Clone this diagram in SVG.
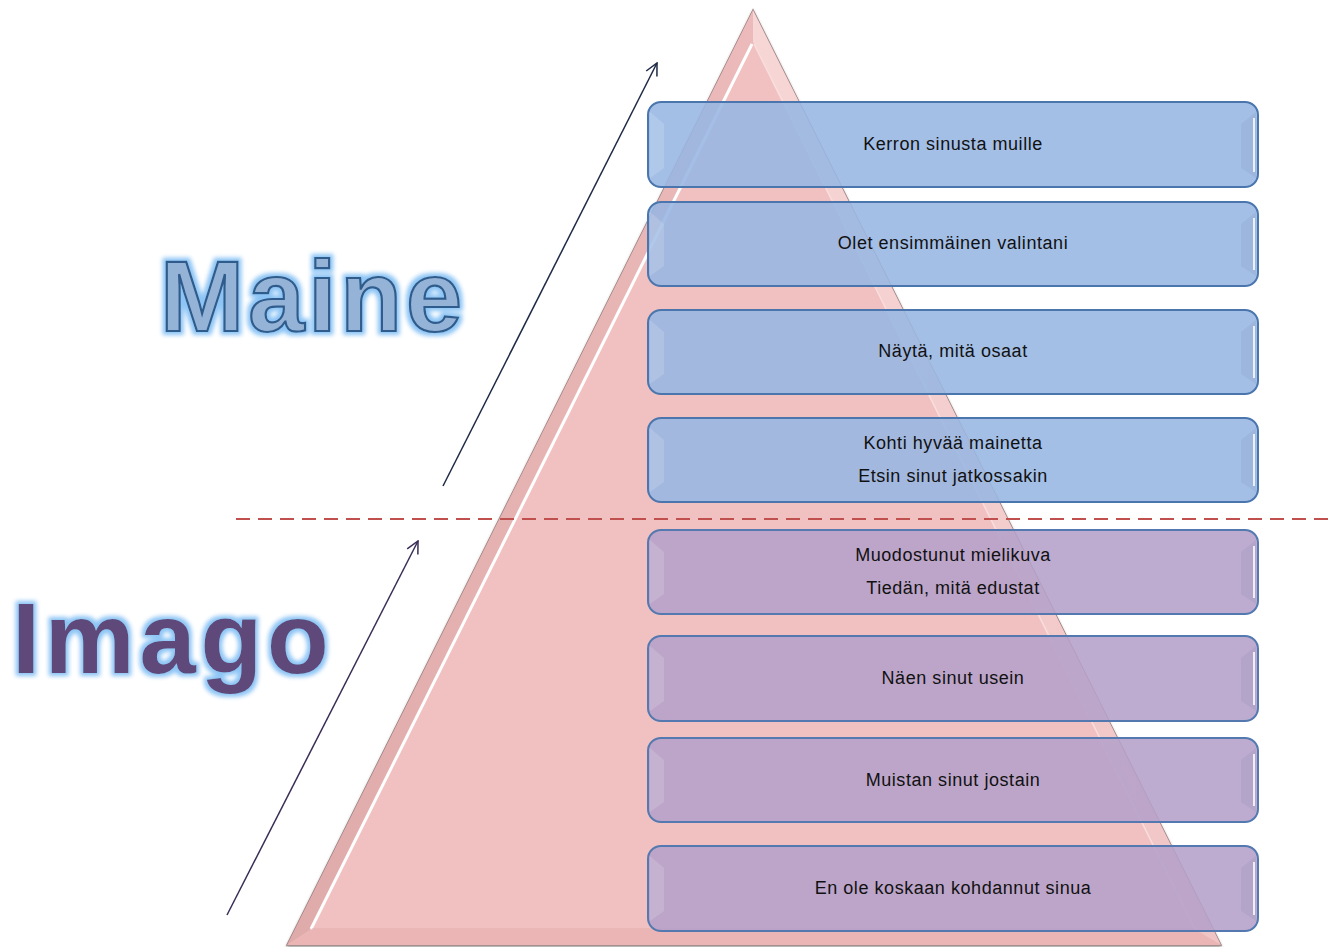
<svg xmlns="http://www.w3.org/2000/svg" width="1334" height="947" viewBox="0 0 1334 947">
  <defs>
    <style>
      .lbl { font-family: "Liberation Sans", Arial, sans-serif; font-size: 18px; letter-spacing: 0.55px; fill: #111; text-anchor: middle; }
      .big { font-family: "Liberation Sans", Arial, sans-serif; font-weight: bold; font-size: 101px; }
      .box-blue { fill: #97b6e2; fill-opacity: 0.88; stroke: #4a76ad; stroke-width: 2; }
      .box-purple { fill: #b4a0ca; fill-opacity: 0.88; stroke: #5379b0; stroke-width: 2; }
      .bevel-l { fill: #ffffff; fill-opacity: 0.14; }
      .bevel-r { fill: #3a4a70; fill-opacity: 0.07; }
      .hl { stroke: #ffffff; stroke-opacity: 0.8; stroke-width: 2; fill: none; }
    </style>
    <filter id="glow" x="-10%" y="-20%" width="120%" height="140%">
      <feMorphology in="SourceAlpha" operator="dilate" radius="3" result="d"/>
      <feGaussianBlur in="d" stdDeviation="2.2" result="b"/>
      <feFlood flood-color="#8cc4f5" result="c"/>
      <feComposite in="c" in2="b" operator="in" result="g"/>
      <feMerge>
        <feMergeNode in="g"/>
        <feMergeNode in="SourceGraphic"/>
      </feMerge>
    </filter>
    <filter id="shadow" x="-5%" y="-5%" width="110%" height="110%">
      <feGaussianBlur in="SourceAlpha" stdDeviation="1.5"/>
      <feOffset dx="0" dy="2" result="o"/>
      <feFlood flood-color="#000" flood-opacity="0.35"/>
      <feComposite in2="o" operator="in"/>
      <feMerge><feMergeNode/><feMergeNode in="SourceGraphic"/></feMerge>
    </filter>
    <linearGradient id="faceL" x1="0" y1="0" x2="1" y2="0">
      <stop offset="0" stop-color="#dfaaaa"/>
      <stop offset="1" stop-color="#ecbaba"/>
    </linearGradient>
    <linearGradient id="faceR" x1="0" y1="0" x2="1" y2="0">
      <stop offset="0" stop-color="#f7d6d6"/>
      <stop offset="1" stop-color="#f0c4c4"/>
    </linearGradient>
    <marker id="arrNavy" viewBox="0 0 14 14" refX="13" refY="7" markerWidth="14" markerHeight="14" markerUnits="userSpaceOnUse" orient="auto">
      <path d="M1,1 L13,7 L1,13" fill="none" stroke="#1e2a45" stroke-width="1.5"/>
    </marker>
    <marker id="arrPurple" viewBox="0 0 14 14" refX="13" refY="7" markerWidth="14" markerHeight="14" markerUnits="userSpaceOnUse" orient="auto">
      <path d="M1,1 L13,7 L1,13" fill="none" stroke="#3a2d55" stroke-width="1.5"/>
    </marker>
  </defs>

  <rect width="1334" height="947" fill="#ffffff"/>

  <!-- Pyramid with bevelled faces -->
  <g id="pyramid">
    <polygon points="753,10 287,945 1221,945" fill="#eebbbb" stroke="#9a7f7f" stroke-width="1.5" filter="url(#shadow)"/>
    <polygon points="753,10 287,945 310,930 753,42" fill="url(#faceL)"/>
    <polygon points="753,10 753,42 1196,930 1221,945" fill="url(#faceR)"/>
    <polygon points="287,945 310,930 1196,930 1221,945" fill="#ebb5b5"/>
    <polygon points="753,42 310,930 1196,930" fill="#f1c1c1"/>
    <line x1="752" y1="44" x2="311" y2="929" stroke="#ffffff" stroke-width="3"/>
    <line x1="754" y1="44" x2="1195" y2="929" stroke="#f9dede" stroke-width="1.5"/>
    <line x1="312" y1="929" x2="1194" y2="929" stroke="#e4aaaa" stroke-width="1"/>
  </g>

  <!-- Dashed divider between the two zones -->
  <g id="divider">
    <line x1="236" y1="519" x2="1332" y2="519" stroke="#c0504d" stroke-width="1.8" stroke-dasharray="14,8"/>
  </g>

  <!-- Stage boxes -->
  <g id="box1">
    <rect class="box-blue" x="648" y="102" width="610" height="85" rx="13"/>
    <polygon class="bevel-l" points="650,112 664,124 664,168 650,178"/>
    <polygon class="bevel-r" points="1256,112 1241,124 1241,168 1256,178"/>
    <path class="hl" d="M1254,118 L1254,172"/>
    <text class="lbl" x="953" y="150">Kerron sinusta muille</text>
  </g>
  <g id="box2">
    <rect class="box-blue" x="648" y="202" width="610" height="84" rx="13"/>
    <polygon class="bevel-l" points="650,212 664,224 664,266 650,276"/>
    <polygon class="bevel-r" points="1256,212 1241,224 1241,266 1256,276"/>
    <path class="hl" d="M1254,218 L1254,270"/>
    <text class="lbl" x="953" y="249">Olet ensimmäinen valintani</text>
  </g>
  <g id="box3">
    <rect class="box-blue" x="648" y="310" width="610" height="84" rx="13"/>
    <polygon class="bevel-l" points="650,320 664,332 664,374 650,384"/>
    <polygon class="bevel-r" points="1256,320 1241,332 1241,374 1256,384"/>
    <path class="hl" d="M1254,326 L1254,378"/>
    <text class="lbl" x="953" y="357">Näytä, mitä osaat</text>
  </g>
  <g id="box4">
    <rect class="box-blue" x="648" y="418" width="610" height="84" rx="13"/>
    <polygon class="bevel-l" points="650,428 664,440 664,482 650,492"/>
    <polygon class="bevel-r" points="1256,428 1241,440 1241,482 1256,492"/>
    <path class="hl" d="M1254,434 L1254,486"/>
    <text class="lbl" x="953" y="449">Kohti hyvää mainetta</text>
    <text class="lbl" x="953" y="482">Etsin sinut jatkossakin</text>
  </g>
  <g id="box5">
    <rect class="box-purple" x="648" y="530" width="610" height="84" rx="13"/>
    <polygon class="bevel-l" points="650,540 664,552 664,594 650,604"/>
    <polygon class="bevel-r" points="1256,540 1241,552 1241,594 1256,604"/>
    <path class="hl" d="M1254,546 L1254,598"/>
    <text class="lbl" x="953" y="561">Muodostunut  mielikuva</text>
    <text class="lbl" x="953" y="594">Tiedän, mitä edustat</text>
  </g>
  <g id="box6">
    <rect class="box-purple" x="648" y="636" width="610" height="85" rx="13"/>
    <polygon class="bevel-l" points="650,646 664,658 664,701 650,711"/>
    <polygon class="bevel-r" points="1256,646 1241,658 1241,701 1256,711"/>
    <path class="hl" d="M1254,652 L1254,705"/>
    <text class="lbl" x="953" y="684">Näen sinut usein</text>
  </g>
  <g id="box7">
    <rect class="box-purple" x="648" y="738" width="610" height="84" rx="13"/>
    <polygon class="bevel-l" points="650,748 664,760 664,802 650,812"/>
    <polygon class="bevel-r" points="1256,748 1241,760 1241,802 1256,812"/>
    <path class="hl" d="M1254,754 L1254,806"/>
    <text class="lbl" x="953" y="786">Muistan sinut jostain</text>
  </g>
  <g id="box8">
    <rect class="box-purple" x="648" y="846" width="610" height="85" rx="13"/>
    <polygon class="bevel-l" points="650,856 664,868 664,911 650,921"/>
    <polygon class="bevel-r" points="1256,856 1241,868 1241,911 1256,921"/>
    <path class="hl" d="M1254,862 L1254,915"/>
    <text class="lbl" x="953" y="894">En ole koskaan kohdannut  sinua</text>
  </g>

  <!-- Zone titles -->
  <g id="title-maine" filter="url(#glow)">
    <text class="big" x="160" y="331" letter-spacing="4" fill="#95b3d7" stroke="#2f5b8c" stroke-width="2.2">Maine</text>
  </g>
  <g id="title-imago" filter="url(#glow)">
    <text class="big" x="12" y="673" letter-spacing="4.8" fill="#5f497a">Imago</text>
  </g>

  <!-- Growth arrows -->
  <g id="connectors">
    <line x1="443" y1="486" x2="657" y2="63" stroke="#1e2a45" stroke-width="1.5" marker-end="url(#arrNavy)"/>
    <line x1="227" y1="915" x2="418" y2="541" stroke="#3a2d55" stroke-width="1.5" marker-end="url(#arrPurple)"/>
  </g>
</svg>
